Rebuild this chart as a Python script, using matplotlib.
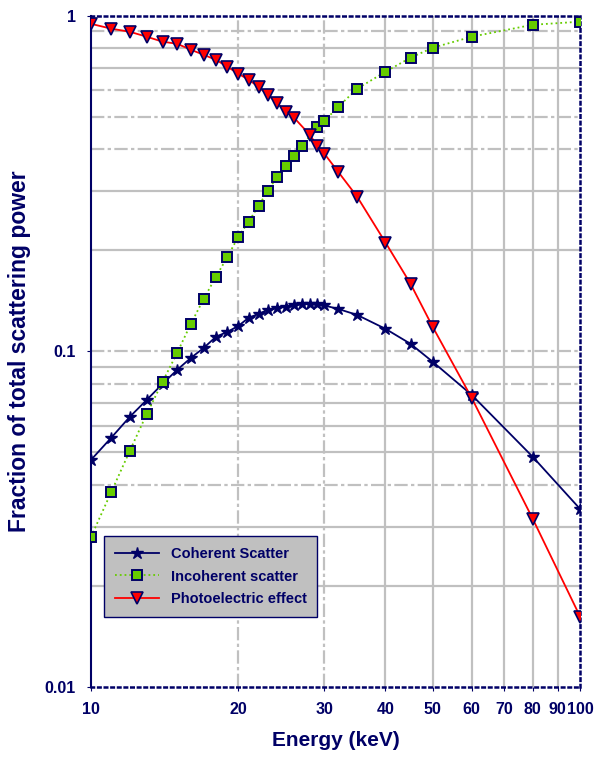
import numpy as np
import matplotlib
matplotlib.use("Agg")
import matplotlib.pyplot as plt
from matplotlib.ticker import FixedLocator, NullFormatter, NullLocator

plt.rcParams["font.family"] = ["Liberation Sans", "DejaVu Sans"]

NAVY = "#000066"
GRID = "#c0c0c0"

# energies (keV) and fractions
coh_e = [10, 11, 12, 13, 14, 15, 16, 17, 18, 19, 20, 21, 22, 23, 24, 25, 26, 27, 28, 29, 30,
         32, 35, 40, 45, 50, 60, 80, 100]
coh_v = [0.0475, 0.0553, 0.0638, 0.0717, 0.080, 0.0881, 0.0956, 0.1024, 0.1105, 0.1143, 0.119,
         0.1259, 0.1293, 0.133, 0.1348, 0.1357, 0.137, 0.1385, 0.1385, 0.138, 0.137,
         0.1338, 0.1284, 0.1167, 0.1053, 0.093, 0.0742, 0.0485, 0.0339]

inc_e = [10, 11, 12, 13, 14, 15, 16, 17, 18, 19, 20, 21, 22, 23, 24, 25, 26, 27, 29, 30,
         32, 35, 40, 45, 50, 60, 80, 100]
inc_v = [0.028, 0.0381, 0.0505, 0.0651, 0.0811, 0.099, 0.1208, 0.1434, 0.1667, 0.191, 0.2194,
         0.2432, 0.2715, 0.301, 0.331, 0.357, 0.3825, 0.41, 0.467, 0.486,
         0.535, 0.606, 0.681, 0.75, 0.803, 0.866, 0.94, 0.96]

pho_e = [10, 11, 12, 13, 14, 15, 16, 17, 18, 19, 20, 21, 22, 23, 24, 25, 26, 28, 29, 30,
         32, 35, 40, 45, 50, 60, 80, 100]
pho_v = [0.946, 0.915, 0.896, 0.866, 0.837, 0.825, 0.792, 0.765, 0.739, 0.705, 0.672,
         0.645, 0.614, 0.581, 0.55, 0.517, 0.497, 0.442, 0.41, 0.388,
         0.343, 0.289, 0.211, 0.159, 0.118, 0.0727, 0.0317, 0.0162]

x_ticks = [10, 20, 30, 40, 50, 60, 70, 80, 90, 100]
y_ticks = [0.01, 0.1, 1]
y_ticklabels = ["0.01", "0.1", "1"]

fig = plt.figure(figsize=(5.95, 7.61), dpi=100)
ax = fig.add_axes([0.153, 0.0973, 0.822, 0.882])
ax.set_xscale("log"); ax.set_yscale("log")
ax.set_xlim(10, 100); ax.set_ylim(0.01, 1)

# grid lines (drawn by hand to copy the mixed solid / dash-dot look)
dashdot = (0, (6, 1.5, 1.5, 1.5))
for v in [20, 30]:
    ax.axvline(v, color=GRID, lw=1.6, ls=dashdot, zorder=0)
for v in [40, 50, 60, 70, 80, 90]:
    ax.axvline(v, color=GRID, lw=1.6, zorder=0)
dashed_h = [0.9, 0.6, 0.5, 0.4, 0.1, 0.08, 0.04]
for d in [0.01, 0.1]:
    for m in range(1, 10):
        v = round(d * m, 4)
        if v == 0.01:
            continue
        ax.axhline(v, color=GRID, lw=1.6, ls=dashdot if v in dashed_h else "-", zorder=0)

ax.plot(coh_e, coh_v, color=NAVY, lw=1.3, marker="*", ms=9, mfc=NAVY, mec=NAVY,
        label="Coherent Scatter", zorder=3)
ax.plot(inc_e, inc_v, color="#66cc00", lw=1.3, ls=":", marker="s", ms=7.5,
        mfc="#66cc00", mec=NAVY, mew=1.4, label="Incoherent scatter", zorder=3)
ax.plot(pho_e, pho_v, color="red", lw=1.3, marker="v", ms=8, mfc="red", mec=NAVY,
        mew=1.2, label="Photoelectric effect", zorder=4)

ax.xaxis.set_major_locator(FixedLocator(x_ticks))
ax.set_xticklabels([str(t) for t in x_ticks])
ax.xaxis.set_minor_locator(NullLocator())
ax.yaxis.set_major_locator(FixedLocator(y_ticks))
ax.set_yticklabels(y_ticklabels)
ax.yaxis.set_minor_formatter(NullFormatter())
ax.yaxis.set_minor_locator(NullLocator())
ax.tick_params(axis="both", length=3, color=NAVY, labelcolor=NAVY, pad=8)
for lab in ax.get_xticklabels() + ax.get_yticklabels():
    lab.set_fontweight("bold"); lab.set_fontsize(11.5)

ax.spines["left"].set_color(NAVY); ax.spines["left"].set_linewidth(1.5)
for s in ["top", "bottom", "right"]:
    ax.spines[s].set_color(NAVY)
    ax.spines[s].set_linestyle(":")
    ax.spines[s].set_linewidth(1.8)

ax.set_xlabel("Energy (keV)", fontsize=15, fontweight="bold", color=NAVY, labelpad=10)
ax.set_ylabel("Fraction of total scattering power", fontsize=16.5, fontweight="bold",
              color=NAVY, labelpad=10)

leg = ax.legend(loc="lower left", bbox_to_anchor=(0.012, 0.093), fancybox=False,
                framealpha=1, facecolor=GRID, edgecolor=NAVY, fontsize=10.5,
                handlelength=3.0, borderpad=0.75, labelspacing=0.6)
for t in leg.get_texts():
    t.set_color(NAVY); t.set_fontweight("bold")

fig.savefig("out.png", dpi=100)
